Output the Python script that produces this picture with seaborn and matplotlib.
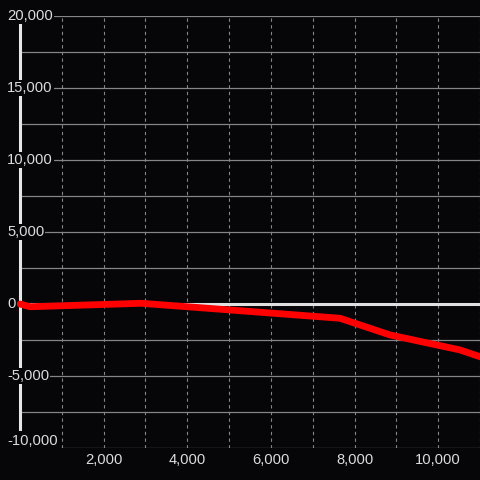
import numpy as np
import pandas as pd
import matplotlib
matplotlib.use("Agg")
import matplotlib.pyplot as plt
import matplotlib.transforms as mtransforms
import seaborn as sns

# ---- data ----
distance = [0, 240, 2900, 7650, 8850, 10520, 11000]
elevation = [0, -190, 50, -990, -2150, -3190, -3660]
y_ticks = [-10000, -7500, -5000, -2500, 0, 2500, 5000, 7500, 10000, 12500, 15000, 17500, 20000]
y_labels = [-10000, -5000, 0, 5000, 10000, 15000, 20000]
x_ticks = [0, 1000, 2000, 3000, 4000, 5000, 6000, 7000, 8000, 9000, 10000, 11000]
x_labels = [2000, 4000, 6000, 8000, 10000]

BG = "#060609"
TXT = "#dcdcdc"

sns.set_theme(style="dark")
plt.rcParams["font.family"] = ["Liberation Sans", "DejaVu Sans"]

fig = plt.figure(figsize=(4.8, 4.8), dpi=100, facecolor=BG)
ax = fig.add_axes([20 / 480, 32 / 480, 460 / 480, 432 / 480])
ax.set_facecolor(BG)

df = pd.DataFrame({"distance": distance, "elevation": elevation})
sns.lineplot(data=df, x="distance", y="elevation", ax=ax, color="#ff0000",
             linewidth=4.9, solid_capstyle="round", solid_joinstyle="round",
             zorder=4, clip_on=False)

ax.axhline(0, color="#e0e0e0", linewidth=2.2, zorder=3)

ax.set_xlim(0, 11000)
ax.set_ylim(-10000, 20000)
ax.set_yticks(y_ticks)
ax.set_yticklabels([])
ax.set_xticks(x_ticks)
ax.set_xticklabels([f"{v:,}" if v in x_labels else "" for v in x_ticks])
ax.tick_params(axis="x", length=0, pad=3.5, labelsize=10.6, labelcolor=TXT)
ax.tick_params(axis="y", length=0)
ax.set_xlabel("")
ax.set_ylabel("")

ax.set_axisbelow(True)
ax.yaxis.grid(True, color="#858585", linewidth=0.9, linestyle="-")
ax.xaxis.grid(True, color="#858585", linewidth=0.8, linestyle=(0, (3, 3)))

for s in ["top", "right", "bottom"]:
    ax.spines[s].set_visible(False)
ax.spines["left"].set_color("#e6e6e6")
ax.spines["left"].set_linewidth(2.2)
ax.spines["left"].set_zorder(2.5)

trans = mtransforms.blended_transform_factory(ax.transAxes, ax.transData)
for v in y_labels:
    is_bottom = v == min(y_labels)
    ax.text(-13 / 460, v, f"{v:,}", transform=trans,
            ha="left", va="bottom" if is_bottom else "center",
            fontsize=10.6, color=TXT, zorder=6, clip_on=False,
            bbox=dict(facecolor=BG, edgecolor="none", pad=2.2 if is_bottom else 0.8))

fig.savefig("out.png", dpi=100, facecolor=BG)
